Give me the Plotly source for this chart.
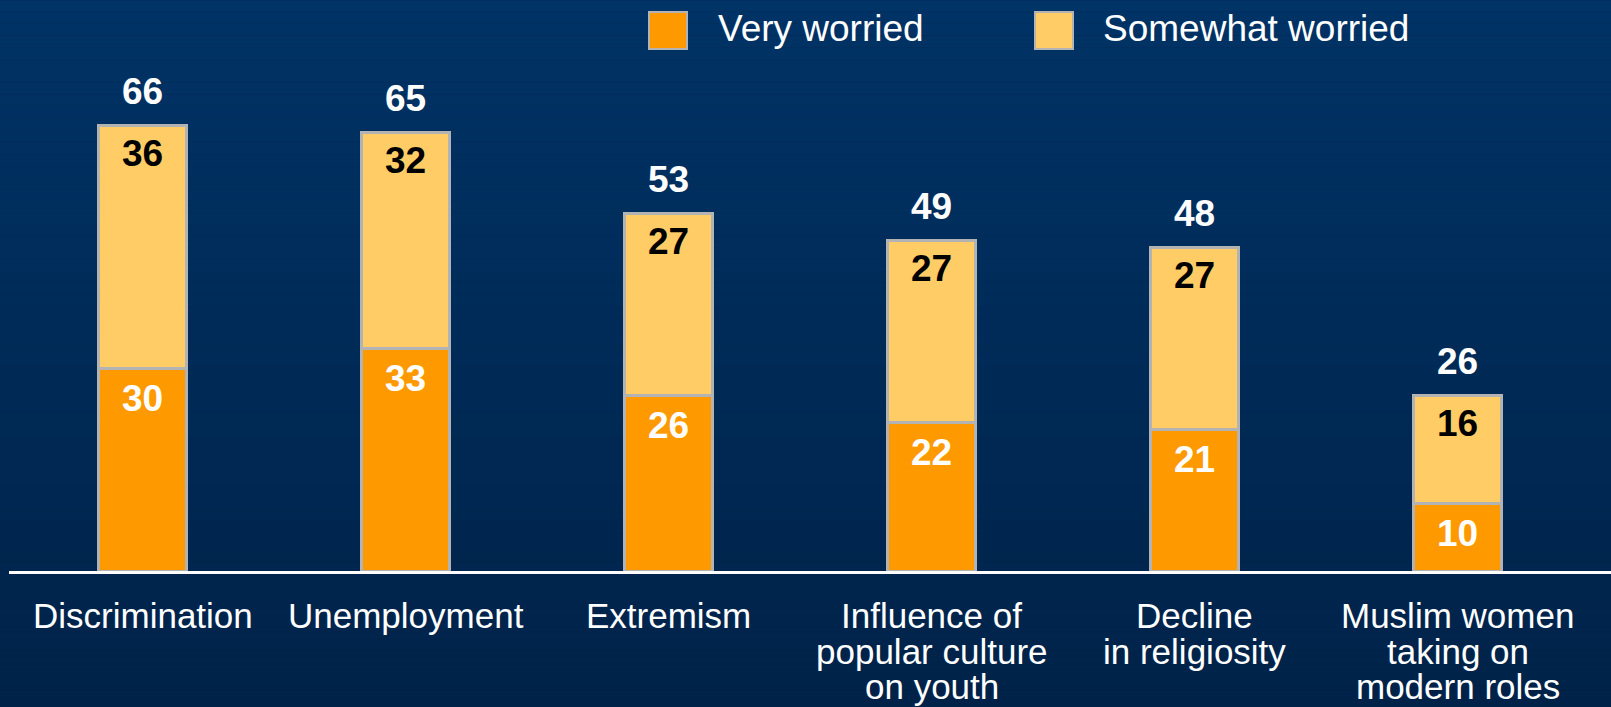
import plotly.graph_objects as go

# ---------------- data ----------------
categories = [
    "Discrimination",
    "Unemployment",
    "Extremism",
    "Influence of<br>popular culture<br>on youth",
    "Decline<br>in religiosity",
    "Muslim women<br>taking on<br>modern roles",
]
very_worried = [30, 33, 26, 22, 21, 10]
somewhat_worried = [36, 32, 27, 27, 27, 16]
totals = [66, 65, 53, 49, 48, 26]
series_names = ["Very worried", "Somewhat worried"]

# ---------------- styling / layout ----------------
W, H = 1611, 707
ML, MR, MT, MB = 9, 0, 0, 136
PW, PH = W - ML - MR, H - MT - MB
CAT_PX = 263.0
FIRST_CENTER_PX = 142.5
PX_PER_UNIT = 6.75

C_VERY = "#FF9900"
C_SOME = "#FFCC66"
C_BORDER = "#B3B3B3"
FONT = "Liberation Sans, Arial, sans-serif"

x_start = -(FIRST_CENTER_PX - ML) / CAT_PX
x_range = [x_start, x_start + PW / CAT_PX]
y_range = [0, PH / PX_PER_UNIT]


def px_x(p):
    return (p - ML) / PW


def px_y(p):
    return (H - MB - p) / PH


fig = go.Figure()
fig.add_trace(go.Bar(
    x=categories, y=very_worried, name=series_names[0],
    marker=dict(color=C_VERY, line=dict(color=C_BORDER, width=3)),
    showlegend=False, hoverinfo="skip",
))
fig.add_trace(go.Bar(
    x=categories, y=somewhat_worried, name=series_names[1],
    marker=dict(color=C_SOME, line=dict(color=C_BORDER, width=3)),
    showlegend=False, hoverinfo="skip",
))

annotations = []
num_font = dict(family=FONT, size=37, weight="bold")
for cat, v, s, t in zip(categories, very_worried, somewhat_worried, totals):
    annotations.append(dict(x=cat, y=v, xref="x", yref="y", text=str(v),
                            showarrow=False, yanchor="middle", yshift=-30,
                            font=dict(num_font, color="white")))
    annotations.append(dict(x=cat, y=v + s, xref="x", yref="y", text=str(s),
                            showarrow=False, yanchor="middle", yshift=-28,
                            font=dict(num_font, color="black")))
    annotations.append(dict(x=cat, y=t, xref="x", yref="y", text=str(t),
                            showarrow=False, yanchor="middle", yshift=34,
                            font=dict(num_font, color="white")))
    for j, line in enumerate(cat.split("<br>")):
        annotations.append(dict(x=cat, y=0, xref="x", yref="paper", text=line,
                                showarrow=False, yanchor="middle",
                                yshift=-44.5 - j * 35.5,
                                font=dict(family=FONT, size=35, color="white")))

shapes = []
# background gradient
top_rgb = (0, 51, 102)
bot_rgb = (0, 34, 72)
N = 60
y_top, y_bot = px_y(0), px_y(H)
for k in range(N):
    f = (k + 0.5) / N
    c = tuple(round(a + (b - a) * f) for a, b in zip(top_rgb, bot_rgb))
    ya = y_top + (y_bot - y_top) * k / N
    yb = y_top + (y_bot - y_top) * (k + 1) / N
    shapes.append(dict(type="rect", xref="paper", yref="paper",
                       x0=px_x(0), x1=px_x(W), y0=yb, y1=ya - 0.0005,
                       fillcolor="rgb(%d,%d,%d)" % c, line=dict(width=0),
                       layer="below"))

# custom legend
legend_items = [(series_names[0], C_VERY, 649, 716), (series_names[1], C_SOME, 1035, 1101)]
for name, col, sx, tx in legend_items:
    shapes.append(dict(type="rect", xref="paper", yref="paper",
                       x0=px_x(sx), x1=px_x(sx + 38), y0=px_y(49), y1=px_y(12),
                       fillcolor=col, line=dict(color=C_BORDER, width=2)))
    annotations.append(dict(x=px_x(tx), y=px_y(29), xref="paper", yref="paper",
                            text=name, showarrow=False, xanchor="left",
                            yanchor="middle",
                            font=dict(family=FONT, size=37, color="white")))

fig.update_layout(
    width=W, height=H, autosize=False,
    margin=dict(l=ML, r=MR, t=MT, b=MB, pad=0),
    barmode="stack", bargap=1 - 88 / CAT_PX,
    paper_bgcolor="#002a55", plot_bgcolor="rgba(0,0,0,0)",
    xaxis=dict(range=x_range, showticklabels=False, showgrid=False,
               zeroline=False, showline=True, linecolor="white", linewidth=3,
               ticks="", fixedrange=True),
    yaxis=dict(range=y_range, visible=False, showgrid=False, zeroline=False,
               fixedrange=True),
    shapes=shapes, annotations=annotations,
    font=dict(family=FONT, color="white"),
    showlegend=False,
)

fig.write_html(
    "out.html",
    config={"displayModeBar": False},
    post_script="document.body.style.margin='0';document.body.style.overflow='hidden';",
)
